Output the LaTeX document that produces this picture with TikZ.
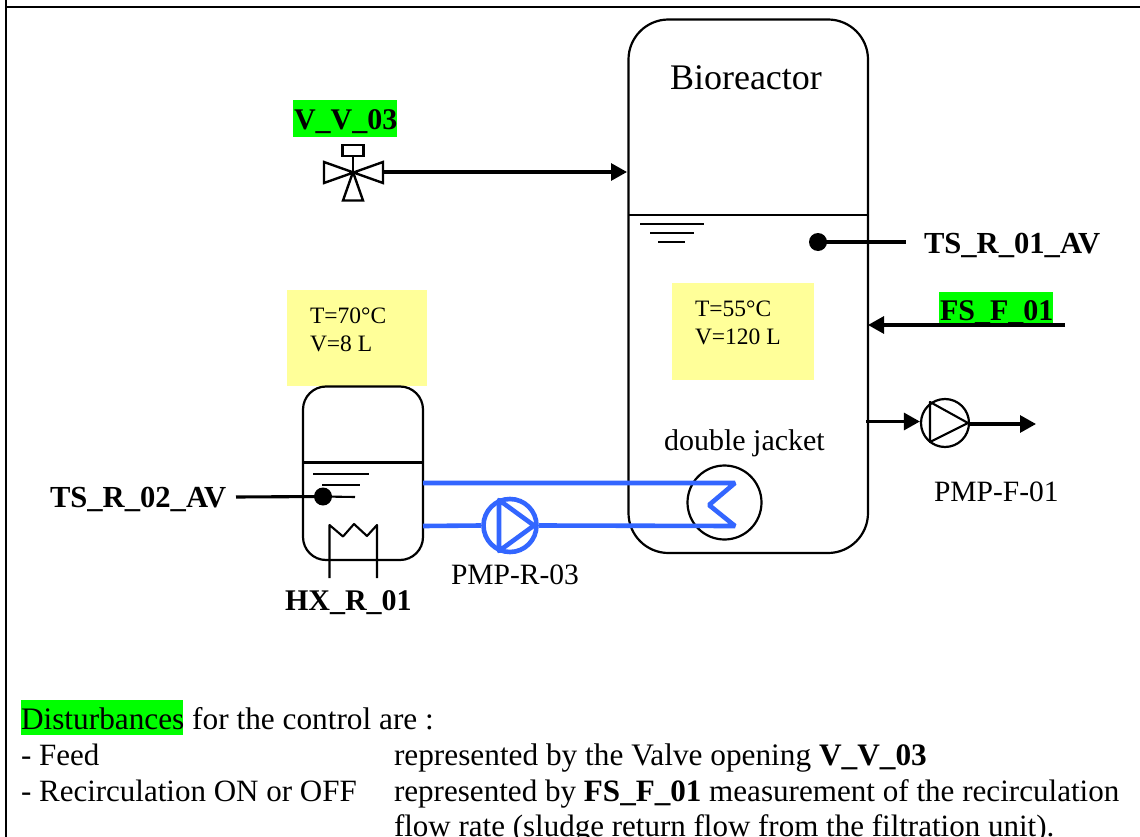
\documentclass[tikz,border=0pt]{standalone}
\usepackage{fontspec}
\setmainfont{Liberation Serif}
\usetikzlibrary{arrows.meta}
\definecolor{hlgreen}{HTML}{00FF00}
\definecolor{noteyellow}{HTML}{FFFF99}
\definecolor{loopblue}{HTML}{3366FF}
\tikzset{
 txt/.style={anchor=base west,inner sep=0pt,outer sep=0pt,font=\fontsize{#1}{#1}\selectfont},
 btxt/.style={anchor=base west,inner sep=0pt,outer sep=0pt,font=\fontsize{#1}{#1}\selectfont\bfseries},
 vessel/.style={draw=black,line width=2.2pt,rounded corners=#1},
 thin line/.style={draw=black,line width=2.1pt},
 conn/.style={draw=black,line width=3.1pt},
 arrowconn/.style={conn,-{Triangle[length=16pt,width=17pt]}},
 blueline/.style={draw=loopblue,line width=4.6pt,line join=miter},
 note/.style={fill=noteyellow,draw=none},
 hl/.style={fill=hlgreen,draw=none},
 sensor/.style={circle,fill=black,inner sep=0pt,minimum size=18pt}
}
\begin{document}
\begin{tikzpicture}[x=1pt,y=-1pt]
\useasboundingbox (0,0) rectangle (1140,837);
\fill[white] (0,0) rectangle (1140,837);
% page frame
\draw[black,line width=2.2pt] (6,0) -- (6,837);
\draw[black,line width=2.2pt] (5,6.7) -- (1140,6.7);
% highlights and notes
\fill[hl] (293,100) rectangle (397,137);
\fill[hl] (939,292) rectangle (1053,327);
\fill[hl] (21,700) rectangle (183,735);
\fill[note] (672,283) rectangle (814,380);
\fill[note] (287,290) rectangle (427,386);
% bioreactor
\draw[vessel=40pt] (628.5,19.5) rectangle (868,553);
\draw[thin line] (628.5,215) -- (868,215);
\draw[thin line] (640,224) -- (704,224);
\draw[thin line] (650,233) -- (694,233);
\draw[thin line] (658,242) -- (685,242);
\node[txt=36] (biotitle) at (670,90) {Bioreactor};
% double jacket
\node[draw=black,line width=2.2pt,circle,inner sep=0pt,minimum size=74pt] (jacket) at (724.5,502.5) {};
\node[txt=30] (jackettext) at (664,450) {double jacket};
% heat tank
\draw[vessel=23pt] (303,386.5) rectangle (423,560);
\draw[thin line] (303,462.5) -- (423,462.5);
\draw[thin line] (313,474) -- (369,474);
\draw[thin line] (322,485) -- (360,485);
\coordinate (levelend) at (355,497);
\node[sensor] (ts2) at (323,496.5) {};
\coordinate (ts2line) at (236,497);
\draw[conn] (ts2line) -- (ts2.center);
\draw[thin line] (ts2.center) -- (levelend);
% heat exchanger
\coordinate (hxa) at (329.5,578);
\coordinate (hxb) at (377,578);
\draw[thin line,line join=round] (hxa) -- (329.5,525) -- (343,536.5) -- (354,524) -- (367,536) -- (377,525) -- (hxb);
% recirculation
\coordinate (blueA) at (423,483);
\coordinate (blueB) at (423,526);
\node[draw=loopblue,line width=4.6pt,circle,inner sep=0pt,minimum size=53pt,fill=none] (pmpR) at (510,525.5) {};
\draw[blueline,line join=round] (499,500) -- (499,551) -- (534,525.5) -- cycle;
\draw[blueline,line join=bevel] (blueA) -- (735,483) -- (709,505) -- (735,526) -- (pmpR.east);
\draw[blueline] (blueB) -- (pmpR.west);
% sensors bioreactor
\node[sensor] (ts1) at (818,242) {};
\coordinate (ts1line) at (906,242);
\draw[conn] (ts1.center) -- (ts1line);
% FS
\coordinate (fsstart) at (1065,325);
\coordinate (fsend) at (868,325);
\node[btxt=30] (fstext) at (940,320) {FS\_F\_01};
\draw[arrowconn] (fsstart) -- (fsend);
% valve
\coordinate (vc) at (353,172);
\draw[thin line,line width=2.4pt,line join=miter] (324,162) -- (383,183) -- (383,162) -- (324,183) -- cycle;
\draw[thin line,line width=2.4pt] (vc) -- (363,200.5) -- (343,200.5) -- cycle;
\node[draw=black,line width=2.4pt,inner sep=0pt,minimum width=21pt,minimum height=11pt] (vact) at (353,150.5) {};
\draw[thin line,line width=2.4pt] (vact.south) -- (vc);
\coordinate (vout) at (383,172);
\coordinate (bioin) at (627,172);
\draw[arrowconn] (vout) -- (bioin);
% pump F
\node[draw=black,line width=2.2pt,circle,inner sep=0pt,minimum size=48pt] (pmpF) at (945,423) {};
\draw[thin line,line join=round] (930,402) -- (930,442) -- (968,423) -- cycle;
\coordinate (bioout) at (866,421.5);
\coordinate (pmpFout) at (1036,424);
\draw[arrowconn] (bioout) -- (pmpF.west |- bioout);
\draw[arrowconn] (pmpF.east |- pmpFout) -- (pmpFout);
% labels
\node[btxt=30] (vlabel) at (294,130) {V\_V\_03};
\node[btxt=30.6] (ts1label) at (924,253) {TS\_R\_01\_AV};
\node[btxt=30.6] (ts2label) at (50,507) {TS\_R\_02\_AV};
\node[btxt=30] (hxlabel) at (285,610) {HX\_R\_01};
\node[txt=23.5] (t55) at (695,316) {T=55°C};
\node[txt=23.5] (v120) at (695,344) {V=120 L};
\node[txt=23.5] (t70) at (310,323) {T=70°C};
\node[txt=23.5] (v8) at (310,351) {V=8 L};
\node[txt=29.5] (pr) at (451,584) {PMP-R-03};
\node[txt=29.5] (pf) at (934,501) {PMP-F-01};
% text block
\node[txt=31.3] (l1) at (21,729) {Disturbances for the control are :};
\node[txt=31] (l2) at (21,765) {- Feed};
\node[txt=31.3] (l2b) at (394,765) {represented by the Valve opening \textbf{V\_V\_03}};
\node[txt=31] (l3) at (21,801) {- Recirculation ON or OFF};
\node[txt=31.1] (l3b) at (394,801) {represented by \textbf{FS\_F\_01} measurement of the recirculation};
\node[txt=31] (l4) at (394,836) {flow rate (sludge return flow from the filtration unit).};
\end{tikzpicture}
\end{document}
